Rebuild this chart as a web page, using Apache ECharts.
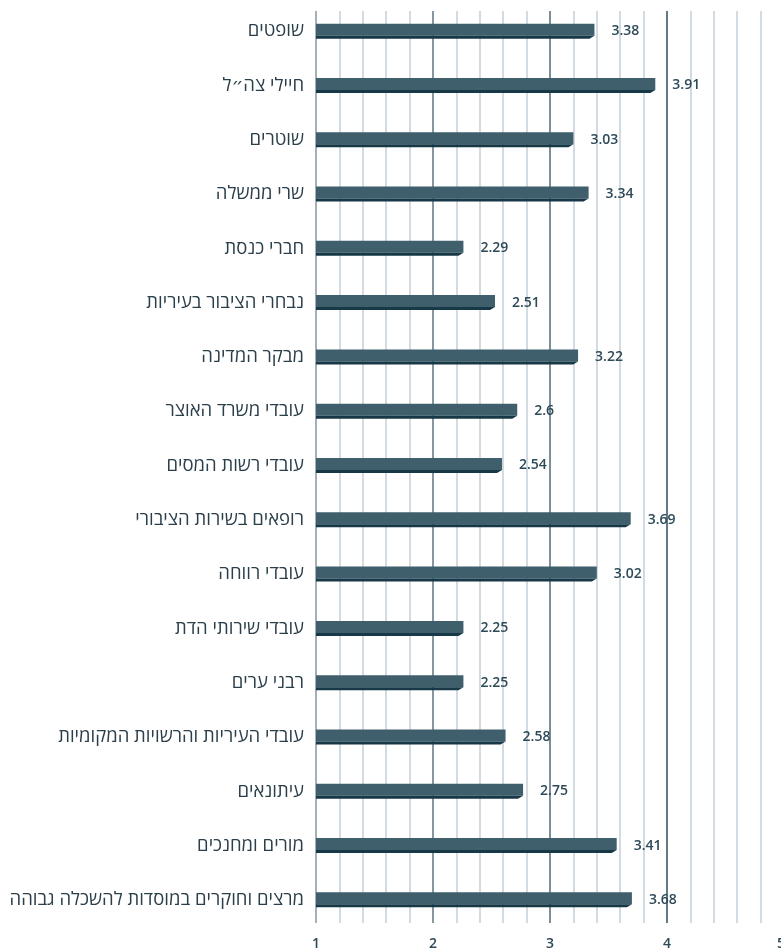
<!DOCTYPE html>
<html>
<head>
<meta charset="utf-8">
<script src="https://cdn.jsdelivr.net/npm/echarts@6/dist/echarts.min.js"></script>
<style>
html,body{margin:0;padding:0;background:#fff;overflow:hidden;}
#c{width:781px;height:950px;}
</style>
</head>
<body>
<div id="c"></div>
<script>
const categories = [
  'שופטים',
  'חיילי צה״ל',
  'שוטרים',
  'שרי ממשלה',
  'חברי כנסת',
  'נבחרי הציבור בעיריות',
  'מבקר המדינה',
  'עובדי משרד האוצר',
  'עובדי רשות המסים',
  'רופאים בשירות הציבורי',
  'עובדי רווחה',
  'עובדי שירותי הדת',
  'רבני ערים',
  'עובדי העיריות והרשויות המקומיות',
  'עיתונאים',
  'מורים ומחנכים',
  'מרצים וחוקרים במוסדות להשכלה גבוהה'
];
// bar lengths as drawn in the picture
const barValues = [3.38, 3.90, 3.20, 3.33, 2.26, 2.53, 3.24, 2.72, 2.59, 3.69, 3.40, 2.26, 2.26, 2.62, 2.77, 3.57, 3.70];
// value labels as printed in the picture
const valueLabels = ['3.38', '3.91', '3.03', '3.34', '2.29', '2.51', '3.22', '2.6', '2.54', '3.69', '3.02', '2.25', '2.25', '2.58', '2.75', '3.41', '3.68'];
const xTickLabels = ['1', '2', '3', '4', '5'];

const chart = echarts.init(document.getElementById('c'), null, {renderer: 'canvas'});
const MAIN = '#3f5f6d';
const DARK = '#173846';
const TICKFONT = {color: '#2d4856', fontSize: 14, fontWeight: 600, fontFamily: '"Open Sans", "Noto Sans", sans-serif'};

const option = {
  animation: false,
  grid: [
    {left: 316, width: 468, top: 4, height: 923, outerBoundsMode: 'none', containLabel: false},
    {left: 316, width: 468, top: 11, height: 912, outerBoundsMode: 'none', containLabel: false}
  ],
  xAxis: [
    {gridIndex: 0, type: 'value', min: 1, max: 5, show: false},
    {
      gridIndex: 1, type: 'value', min: 1, max: 5, interval: 1,
      axisLine: {show: false},
      axisTick: {show: false},
      axisLabel: Object.assign({
        margin: 14,
        showMinLabel: true,
        showMaxLabel: true,
        hideOverlap: false,
        formatter: v => {
          const i = Math.round(v) - 1;
          return i === xTickLabels.length - 1 ? '{last|' + xTickLabels[i] + '}' : xTickLabels[i];
        },
        rich: {last: Object.assign({padding: [0, 6, 0, 0]}, TICKFONT)}
      }, TICKFONT),
      splitLine: {show: true, lineStyle: {color: ['#8596a1', '#5c7482', '#4f6977', '#2f4e5c', '#5c7482'], width: 1.5}},
      minorTick: {show: false, splitNumber: 5},
      minorSplitLine: {show: true, lineStyle: {color: '#c4d0d8', width: 1.5}}
    }
  ],
  yAxis: [
    {
      gridIndex: 0, type: 'category', data: categories, inverse: true,
      axisLine: {show: false},
      axisTick: {show: false},
      axisLabel: {
        margin: 12,
        color: '#2b3f4b',
        fontSize: 18.5,
        fontFamily: '"Open Sans", "DejaVu Sans", sans-serif'
      }
    },
    {
      gridIndex: 1, type: 'category', data: categories, inverse: true, show: false
    }
  ],
  series: [{
    type: 'custom',
    xAxisIndex: 0,
    yAxisIndex: 0,
    encode: {x: 0, y: 1},
    data: barValues.map((v, i) => [v, i]),
    renderItem: function (params, api) {
      const idx = api.value(1);
      const val = api.value(0);
      const p0 = api.coord([1, idx]);
      const p1 = api.coord([val, idx]);
      const x0 = p0[0], x1 = p1[0];
      const top = p0[1] - 7.5;
      return {
        type: 'group',
        children: [
          {type: 'rect', shape: {x: x0, y: top, width: x1 - x0, height: 12}, style: {fill: MAIN}},
          {type: 'polygon', shape: {points: [[x0, top + 12], [x1, top + 12], [x1 - 5, top + 15], [x0, top + 15]]}, style: {fill: DARK}},
          {type: 'text', x: x1 + 17, y: p0[1], style: {
            text: valueLabels[idx], fill: '#2e4a58', fontSize: 14, fontWeight: 600,
            fontFamily: '"Open Sans", "Noto Sans", sans-serif',
            align: 'left', verticalAlign: 'middle'
          }}
        ]
      };
    }
  }]
};
chart.setOption(option);
</script>
</body>
</html>
